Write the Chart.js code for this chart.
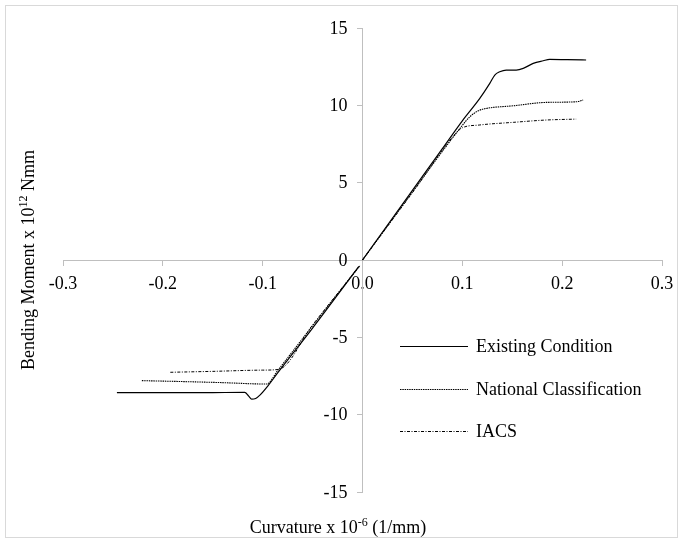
<!DOCTYPE html>
<html>
<head>
<meta charset="utf-8">
<script src="https://cdn.jsdelivr.net/npm/chart.js@4.4.0/dist/chart.umd.min.js"></script>
<style>
  html, body { margin: 0; padding: 0; background: #fff; }
  #wrap { width: 683px; height: 544px; position: relative; }
</style>
</head>
<body>
<div id="wrap"><canvas id="chart"></canvas></div>
<script>
// ================= DATA =================
const seriesNames = ["Existing Condition", "National Classification", "IACS"];

// curvature x 1e-6 (1/mm); null splits the sagging and hogging branch
const existingX = [-0.246, -0.2, -0.15, -0.118, -0.114, -0.111, -0.107, -0.1025, -0.094, -0.085, -0.05, -0.004,
  null, 0, 0.05, 0.08, 0.1, 0.1175, 0.1275, 0.1325, 0.1375, 0.144, 0.154, 0.161, 0.171, 0.181, 0.1875, 0.205, 0.224];
const existingY = [-8.58, -8.58, -8.57, -8.56, -8.8, -9.0, -8.95, -8.72, -8.08, -7.3, -4.4, -0.45,
  null, 0, 4.5, 7.2, 9.0, 10.45, 11.42, 11.96, 12.17, 12.28, 12.28, 12.39, 12.71, 12.88, 12.97, 12.95, 12.93];

const nationalX = [-0.221, -0.18, -0.14, -0.096, -0.085, -0.05, -0.003,
  null, 0, 0.05, 0.0975, 0.1075, 0.116, 0.124, 0.151, 0.184, 0.214, 0.221];
const nationalY = [-7.8, -7.86, -7.93, -8.02, -7.15, -4.25, -0.4,
  null, 0, 4.4, 8.5, 9.26, 9.65, 9.8, 9.97, 10.19, 10.23, 10.34];

const iacsX = [-0.1925, -0.15, -0.1, -0.084, -0.05, -0.003,
  null, 0, 0.05, 0.095, 0.1, 0.1175, 0.151, 0.184, 0.214];
const iacsY = [-7.26, -7.2, -7.12, -7.07, -4.2, -0.38,
  null, 0, 4.35, 8.3, 8.55, 8.73, 8.9, 9.05, 9.11];

const xTicks = [-0.3, -0.2, -0.1, 0, 0.1, 0.2, 0.3];
const xTickLabels = ["-0.3", "-0.2", "-0.1", "0.0", "0.1", "0.2", "0.3"];
const yTicks = [-15, -10, -5, 0, 5, 10, 15];
const yTickLabels = ["-15", "-10", "-5", "0", "5", "10", "15"];

// ================= HELPERS =================
const FONT = "'Liberation Serif', 'Times New Roman', serif";
const AXIS_GREY = "#bfbfbf";

function toPoints(xs, ys) {
  return xs.map((x, i) => (x === null ? { x: NaN, y: null } : { x: x, y: ys[i] }));
}

// text with superscript parts: [{t, sup}]
function drawRich(ctx, parts, x, y, size) {
  const supSize = Math.round(size * 0.65);
  let widths = parts.map(p => {
    ctx.font = (p.sup ? supSize : size) + "px " + FONT;
    return ctx.measureText(p.t).width;
  });
  let total = widths.reduce((a, b) => a + b, 0);
  let cx = x - total / 2;
  ctx.textAlign = "left";
  ctx.textBaseline = "alphabetic";
  parts.forEach((p, i) => {
    ctx.font = (p.sup ? supSize : size) + "px " + FONT;
    ctx.fillText(p.t, cx, p.sup ? y - size * 0.38 : y);
    cx += widths[i];
  });
}

const decorations = {
  id: "decorations",
  afterDraw(chart) {
    const ctx = chart.ctx;
    const area = chart.chartArea;
    const xs = chart.scales.x, ys = chart.scales.y;
    ctx.save();

    // outer frame
    ctx.strokeStyle = "#d9d9d9";
    ctx.lineWidth = 1;
    ctx.strokeRect(5.5, 5.5, 672, 532);

    ctx.fillStyle = "#000";
    // y tick labels, left of the crossing axis
    const axisX = xs.getPixelForValue(0);
    ctx.font = "18px " + FONT;
    ctx.textAlign = "right";
    ctx.textBaseline = "middle";
    yTicks.forEach((v, i) => {
      ctx.fillText(yTickLabels[i], axisX - 15, ys.getPixelForValue(v) + 1);
    });

    // x title
    drawRich(ctx, [{ t: "Curvature x 10" }, { t: "-6", sup: true }, { t: " (1/mm)" }], 338, 533, 18);
    // y title
    ctx.save();
    ctx.translate(34, (area.top + area.bottom) / 2);
    ctx.rotate(-Math.PI / 2);
    drawRich(ctx, [{ t: "Bending Moment x 10" }, { t: "12", sup: true }, { t: " Nmm" }], 0, 0, 18);
    ctx.restore();

    // legend
    const lx0 = 400, lx1 = 468, tx = 476;
    const rows = [346, 389, 431];
    chart.data.datasets.forEach((ds, i) => {
      const y = rows[i] + 0.5;
      ctx.beginPath();
      ctx.setLineDash(ds.borderDash || []);
      ctx.strokeStyle = ds.borderColor;
      ctx.lineWidth = ds.borderWidth;
      ctx.moveTo(lx0, y);
      ctx.lineTo(lx1, y);
      ctx.stroke();
      ctx.setLineDash([]);
      ctx.font = "18px " + FONT;
      ctx.textAlign = "left";
      ctx.textBaseline = "middle";
      ctx.fillStyle = "#000";
      ctx.fillText(seriesNames[i], tx, rows[i] + 1);
    });
    ctx.restore();
  }
};

// ================= CHART =================
const lineBase = {
  showLine: true,
  pointRadius: 0,
  fill: false,
  spanGaps: false,
  cubicInterpolationMode: "monotone",
  borderColor: "#000"
};

new Chart(document.getElementById("chart"), {
  type: "scatter",
  data: {
    datasets: [
      Object.assign({}, lineBase, {
        label: seriesNames[0],
        data: toPoints(existingX, existingY),
        borderWidth: 1.2
      }),
      Object.assign({}, lineBase, {
        label: seriesNames[1],
        data: toPoints(nationalX, nationalY),
        borderWidth: 1.1,
        borderDash: [1.5, 0.8]
      }),
      Object.assign({}, lineBase, {
        label: seriesNames[2],
        data: toPoints(iacsX, iacsY),
        borderWidth: 1,
        borderDash: [3, 1.5, 1, 1.5]
      })
    ]
  },
  options: {
    responsive: true,
    maintainAspectRatio: false,
    animation: false,
    layout: { padding: { left: 63, right: 21, top: 28, bottom: 52 } },
    plugins: {
      legend: { display: false },
      tooltip: { enabled: false }
    },
    scales: {
      x: {
        type: "linear",
        position: { y: 0 },
        min: -0.3,
        max: 0.3,
        afterBuildTicks: s => { s.ticks = xTicks.map(v => ({ value: v })); },
        ticks: {
          callback: (v, i) => xTickLabels[i],
          color: "#000",
          font: { family: FONT, size: 18 },
          padding: 8,
          maxRotation: 0,
          autoSkip: false
        },
        grid: { drawOnChartArea: false, color: AXIS_GREY, tickLength: 5 },
        border: { color: AXIS_GREY, width: 1 }
      },
      y: {
        type: "linear",
        position: { x: 0 },
        min: -15,
        max: 15,
        afterBuildTicks: s => { s.ticks = yTicks.map(v => ({ value: v })); },
        ticks: { display: false },
        grid: { drawOnChartArea: false, color: AXIS_GREY, tickLength: 5 },
        border: { color: AXIS_GREY, width: 1 }
      }
    }
  },
  plugins: [decorations]
});
</script>
</body>
</html>
